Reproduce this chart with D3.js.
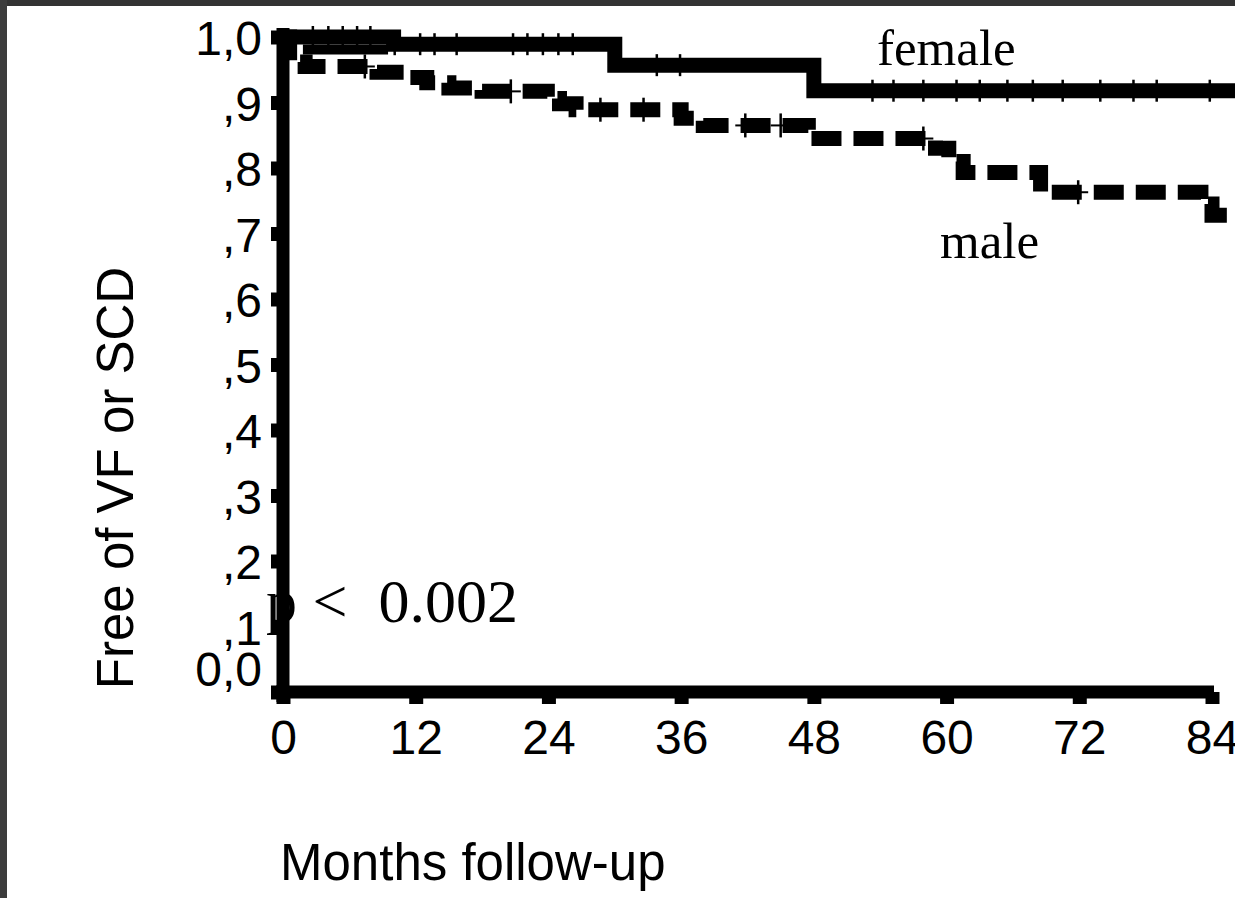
<!DOCTYPE html>
<html lang="en">
<head>
<meta charset="UTF-8" />
<title>Free of VF or SCD – female vs male</title>
<script src="https://d3js.org/d3.v7.min.js"></script>
<style>
  html, body { margin: 0; padding: 0; background: #fff; }
  svg { display: block; }
  .sans { font-family: 'Liberation Sans', Arial, sans-serif; fill: #000; }
  .serif { font-family: 'Liberation Serif', 'Times New Roman', serif; fill: #000; }
</style>
</head>
<body>
<div id="chart"></div>
<script>
// axis ticks
const monthTicks = [0, 12, 24, 36, 48, 60, 72, 84];
const yTicks = [0, 0.1, 0.2, 0.3, 0.4, 0.5, 0.6, 0.7, 0.8, 0.9, 1.0];
const yTickLabels = ['0,0', ',1', ',2', ',3', ',4', ',5', ',6', ',7', ',8', ',9', '1,0'];

// Kaplan-Meier steps [month, proportion free], value holds until next step
const femaleSteps = [[0, 1.0], [10, 0.989], [30, 0.957], [48, 0.918], [86.5, 0.918]];
const femaleEarly = [[1.8, 0.981], [9.5, 0.981]];
const maleSteps = [
  [0, 1.0], [0.6, 0.962], [2.0, 0.955], [8.5, 0.946], [11.5, 0.938],
  [13.0, 0.930], [15.0, 0.922], [18.0, 0.917], [23.9, 0.906], [25.0, 0.898],
  [26.5, 0.889], [36.0, 0.876], [38.0, 0.865], [47.5, 0.845], [59.0, 0.830],
  [60.2, 0.810], [61.5, 0.793], [68.5, 0.763], [83.0, 0.745], [84.0, 0.728],
  [86.5, 0.728]
];

// censored observations (months)
const femaleCensored = [2.7, 4.1, 5.4, 6.7, 7.9, 10.1, 12.4, 13.7, 15.7, 20.8, 22.1,
  23.5, 24.9, 26.2, 33.8, 35.9, 53.3, 55.2, 57.9, 60.9, 63, 65.5, 67.8, 70.5,
  73.9, 76.9, 79, 83.8];
const maleCensored = [7.4, 20.6, 28.7, 32.6, 41.8, 45, 57.9, 71.9];

const width = 1235, height = 898;

const x = d3.scaleLinear().domain([0, 84]).range([283, 1212]);
const y = d3.scaleLinear().domain([0, 1]).range([692, 37]);

const svg = d3.select('#chart').append('svg')
  .attr('width', width)
  .attr('height', height);

// dark frame at top / left of the scanned figure
svg.append('rect').attr('x', 0).attr('y', 0).attr('width', width).attr('height', 6).attr('fill', '#333');
svg.append('rect').attr('x', 0).attr('y', 0).attr('width', 7).attr('height', height).attr('fill', '#3c3c3c');

// p-value sits under the axis
svg.append('text')
  .attr('class', 'serif')
  .attr('x', 266)
  .attr('y', 622)
  .attr('font-size', 62)
  .style('white-space', 'pre')
  .text('p <  0.002');

function stepValue(steps, m) {
  let v = steps[0][1];
  steps.forEach((s) => { if (s[0] <= m) v = s[1]; });
  return v;
}

const line = d3.line()
  .x((d) => x(d[0]))
  .y((d) => y(d[1]))
  .curve(d3.curveStepAfter);

// female: solid thick line
svg.append('path')
  .datum(femaleSteps)
  .attr('d', line)
  .attr('fill', 'none')
  .attr('stroke', '#000')
  .attr('stroke-width', 15);

svg.append('path')
  .datum(femaleEarly)
  .attr('d', line)
  .attr('fill', 'none')
  .attr('stroke', '#000')
  .attr('stroke-width', 10);

svg.selectAll('line.fcens')
  .data(femaleCensored)
  .join('line')
  .attr('class', 'fcens')
  .attr('x1', (m) => x(m))
  .attr('x2', (m) => x(m))
  .attr('y1', (m) => y(stepValue(femaleSteps, m)) - 11)
  .attr('y2', (m) => y(stepValue(femaleSteps, m)) + 11)
  .attr('stroke', '#000')
  .attr('stroke-width', 2.5);

// male: dashed thick line
svg.append('path')
  .datum(maleSteps)
  .attr('d', line)
  .attr('fill', 'none')
  .attr('stroke', '#000')
  .attr('stroke-width', 15)
  .attr('stroke-dasharray', '30,12');

const plus = svg.selectAll('g.mcens')
  .data(maleCensored)
  .join('g')
  .attr('class', 'mcens')
  .attr('transform', (m) => `translate(${x(m)},${y(stepValue(maleSteps, m))})`);
plus.append('line')
  .attr('x1', 0).attr('x2', 0).attr('y1', -12).attr('y2', 12)
  .attr('stroke', '#000').attr('stroke-width', 2.5);
plus.append('line')
  .attr('x1', -10).attr('x2', 10).attr('y1', 0).attr('y2', 0)
  .attr('stroke', '#000').attr('stroke-width', 2);

// axes
const xAxis = svg.append('g')
  .attr('transform', `translate(0,${y(0)})`)
  .call(d3.axisBottom(x).tickValues(monthTicks).tickSize(12).tickPadding(16));
const yAxis = svg.append('g')
  .attr('transform', `translate(${x(0)},0)`)
  .call(d3.axisLeft(y).tickValues(yTicks)
    .tickFormat((d, i) => yTickLabels[i]).tickSize(12).tickPadding(9));

[xAxis, yAxis].forEach((g) => {
  g.attr('font-family', null).attr('font-size', null);
  g.select('.domain').remove();
  g.selectAll('.tick line').attr('stroke', '#000').attr('stroke-width', 14);
  g.selectAll('.tick text')
    .attr('class', 'sans')
    .attr('font-size', 48)
    .attr('fill', '#000');
});
yAxis.selectAll('.tick text').attr('dy', '0.37em');
// the 0,0 label was nudged up off the x axis in the original
yAxis.selectAll('.tick text').filter((d) => d === 0).attr('y', -24);

// thick axis lines
svg.append('line')
  .attr('x1', x(0)).attr('x2', x(0))
  .attr('y1', 28).attr('y2', 702)
  .attr('stroke', '#000').attr('stroke-width', 13);
svg.append('line')
  .attr('x1', 276).attr('x2', x(84) + 2)
  .attr('y1', y(0)).attr('y2', y(0))
  .attr('stroke', '#000').attr('stroke-width', 13);

// curve labels
svg.append('text').attr('class', 'serif').attr('x', 877).attr('y', 65)
  .attr('font-size', 51).text('female');
svg.append('text').attr('class', 'serif').attr('x', 940).attr('y', 258)
  .attr('font-size', 51).text('male');

// axis titles
svg.append('text').attr('class', 'sans')
  .attr('x', 280).attr('y', 880)
  .attr('font-size', 51)
  .text('Months follow-up');
svg.append('text').attr('class', 'sans')
  .attr('transform', 'translate(133,478) rotate(-90)')
  .attr('text-anchor', 'middle')
  .attr('font-size', 51)
  .text('Free of VF or SCD');
</script>
</body>
</html>
